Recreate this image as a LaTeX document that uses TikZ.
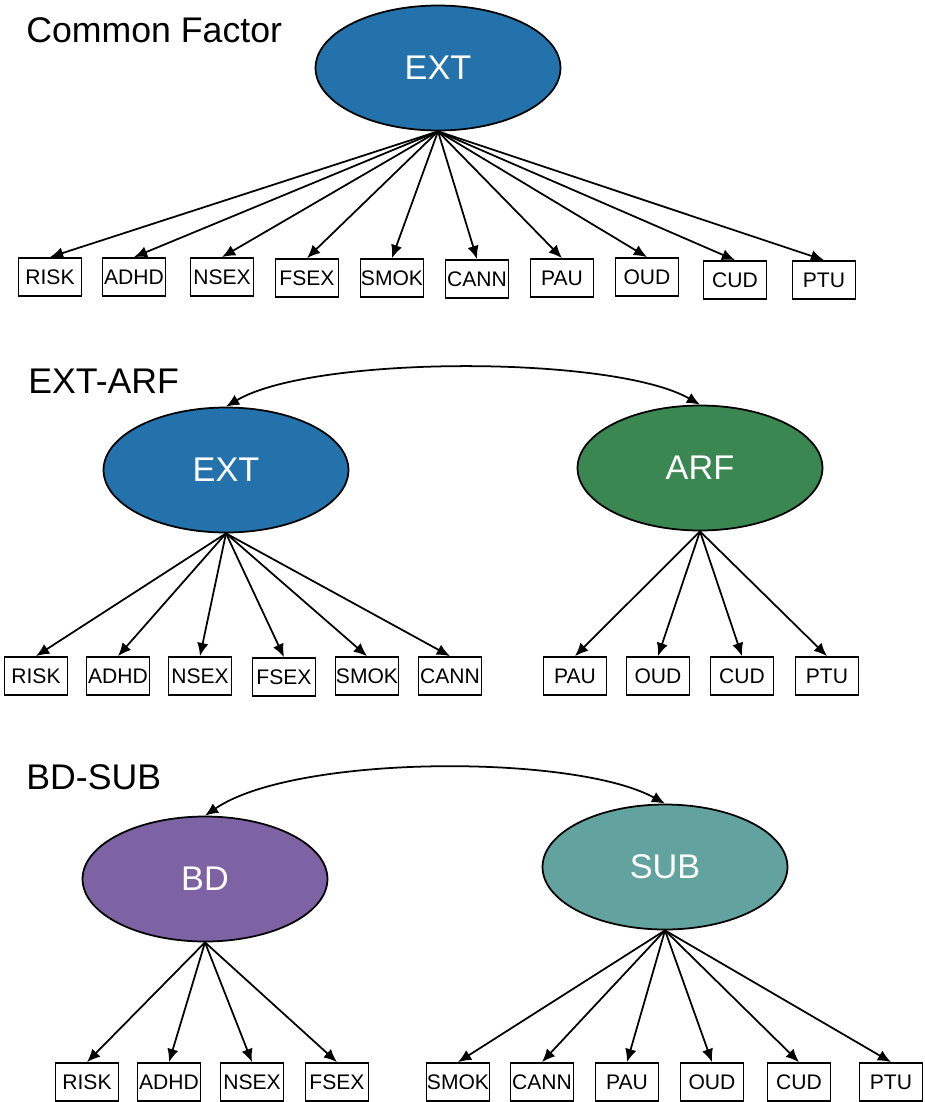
\documentclass[tikz,border=0pt]{standalone}
\usepackage{fontspec}
\setmainfont{Liberation Sans}
\usetikzlibrary{arrows.meta,shapes.geometric}
\definecolor{extblue}{RGB}{35,114,171}
\definecolor{arfgreen}{RGB}{59,135,82}
\definecolor{bdpurple}{RGB}{125,98,164}
\definecolor{subteal}{RGB}{99,163,159}

\begin{document}
\begin{tikzpicture}[x=0.02cm,y=-0.02cm,
    factor/.style={ellipse,draw,line width=1pt,minimum width=4.9cm,
        minimum height=2.5cm,inner sep=0pt,text=white,
        font=\fontsize{19.5}{19.5}\selectfont},
    item/.style={rectangle,draw,line width=1pt,minimum width=1.26cm,
        minimum height=0.76cm,inner sep=0pt,
        font=\fontsize{12}{12}\selectfont},
    title/.style={anchor=base west,inner sep=0pt,
        font=\fontsize{20.3}{20.3}\selectfont},
    load/.style={-{Latex[length=7.5pt,width=6.5pt]},line width=1pt},
    cov/.style={{Latex[length=7.5pt,width=6.5pt]}-{Latex[length=7.5pt,width=6.5pt]},
        line width=1pt}]
            \useasboundingbox (0,0) rectangle (925,1102);
            \node[title] (t1) at (26,42) {Common Factor};
            \node[factor,fill=extblue] (ext1) at (438,68) {EXT};
            \node[item] (risk1) at (50,277) {RISK};
            \node[item] (adhd1) at (134,277) {ADHD};
            \node[item] (nsex1) at (222,277) {NSEX};
            \node[item] (fsex1) at (307,278) {FSEX};
            \node[item] (smok1) at (392,278) {SMOK};
            \node[item] (cann1) at (477,279) {CANN};
            \node[item] (pau1) at (562,278) {PAU};
            \node[item] (oud1) at (647,277) {OUD};
            \node[item] (cud1) at (735,280) {CUD};
            \node[item] (ptu1) at (824,280) {PTU};
            \draw[load] (ext1.south) -- (risk1.north);
            \draw[load] (ext1.south) -- (adhd1.north);
            \draw[load] (ext1.south) -- (nsex1.north);
            \draw[load] (ext1.south) -- (fsex1.north);
            \draw[load] (ext1.south) -- (smok1.north);
            \draw[load] (ext1.south) -- (cann1.north);
            \draw[load] (ext1.south) -- (pau1.north);
            \draw[load] (ext1.south) -- (oud1.north);
            \draw[load] (ext1.south) -- (cud1.north);
            \draw[load] (ext1.south) -- (ptu1.north);

            \node[title] (t2) at (28,393) {EXT-ARF};
            \node[factor,fill=extblue] (ext2) at (226,470) {EXT};
            \node[factor,fill=arfgreen] (arf) at (700,468) {ARF};
            \node[item] (risk2) at (36,676) {RISK};
            \node[item] (adhd2) at (118,676) {ADHD};
            \node[item] (nsex2) at (200,676) {NSEX};
            \node[item] (fsex2) at (284,677) {FSEX};
            \node[item] (smok2) at (367,676) {SMOK};
            \node[item] (cann2) at (450,676) {CANN};
            \node[item] (pau2) at (575,676) {PAU};
            \node[item] (oud2) at (658,676) {OUD};
            \node[item] (cud2) at (742,676) {CUD};
            \node[item] (ptu2) at (827,676) {PTU};
            \draw[cov] (ext2.north) .. controls (313,355) and (613,355) .. (arf.north);
            \draw[load] (ext2.south) -- (risk2.north);
            \draw[load] (ext2.south) -- (adhd2.north);
            \draw[load] (ext2.south) -- (nsex2.north);
            \draw[load] (ext2.south) -- (fsex2.north);
            \draw[load] (ext2.south) -- (smok2.north);
            \draw[load] (ext2.south) -- (cann2.north);
            \draw[load] (arf.south) -- (pau2.north);
            \draw[load] (arf.south) -- (oud2.north);
            \draw[load] (arf.south) -- (cud2.north);
            \draw[load] (arf.south) -- (ptu2.north);

            \node[title] (t3) at (26,789) {BD-SUB};
            \node[factor,fill=bdpurple] (bd) at (205,879) {BD};
            \node[factor,fill=subteal] (sub) at (665,867) {SUB};
            \node[item] (risk3) at (87,1082) {RISK};
            \node[item] (adhd3) at (169,1082) {ADHD};
            \node[item] (nsex3) at (252,1082) {NSEX};
            \node[item] (fsex3) at (337,1082) {FSEX};
            \node[item] (smok3) at (458,1082) {SMOK};
            \node[item] (cann3) at (542,1082) {CANN};
            \node[item] (pau3) at (627,1082) {PAU};
            \node[item] (oud3) at (712,1082) {OUD};
            \node[item] (cud3) at (799,1082) {CUD};
            \node[item] (ptu3) at (891,1082) {PTU};
            \draw[cov] (bd.north) .. controls (295,754) and (575,754) .. (sub.north);
            \draw[load] (bd.south) -- (risk3.north);
            \draw[load] (bd.south) -- (adhd3.north);
            \draw[load] (bd.south) -- (nsex3.north);
            \draw[load] (bd.south) -- (fsex3.north);
            \draw[load] (sub.south) -- (smok3.north);
            \draw[load] (sub.south) -- (cann3.north);
            \draw[load] (sub.south) -- (pau3.north);
            \draw[load] (sub.south) -- (oud3.north);
            \draw[load] (sub.south) -- (cud3.north);
            \draw[load] (sub.south) -- (ptu3.north);
        \end{tikzpicture}
\end{document}
